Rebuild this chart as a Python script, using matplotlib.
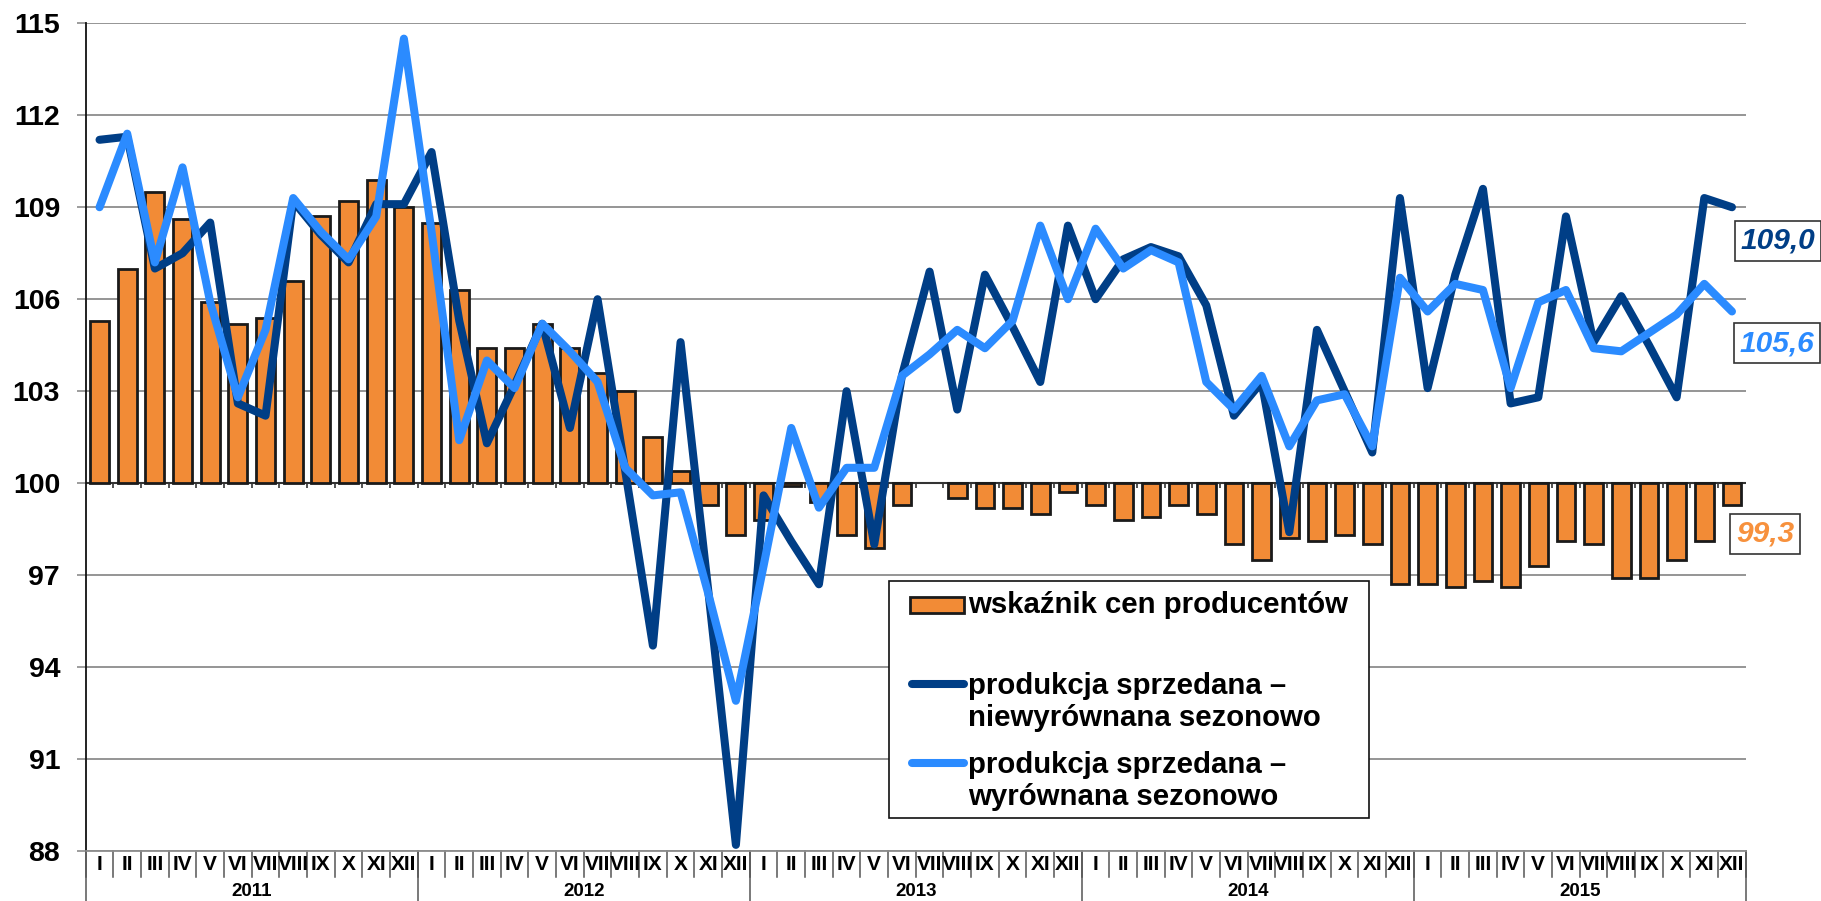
import numpy as np
import matplotlib
matplotlib.use('Agg')
import matplotlib.pyplot as plt
from matplotlib.patches import Rectangle
from matplotlib.lines import Line2D
from matplotlib import transforms

plt.rcParams['font.family'] = ['Liberation Sans', 'DejaVu Sans']

#------ Data ------#
years = ['2011', '2012', '2013', '2014', '2015']
months = ['I', 'II', 'III', 'IV', 'V', 'VI', 'VII', 'VIII', 'IX', 'X', 'XI', 'XII']

# wskaznik cen producentow (bars, base = 100)
ppi = [105.3, 107.0, 109.5, 108.6, 105.9, 105.2, 105.4, 106.6, 108.7, 109.2, 109.9, 109.0,
       108.5, 106.3, 104.4, 104.4, 105.2, 104.4, 103.6, 103.0, 101.5, 100.4, 99.3, 98.3,
       98.8, 99.9, 99.4, 98.3, 97.9, 99.3, 100.0, 99.5, 99.2, 99.2, 99.0, 99.7,
       99.3, 98.8, 98.9, 99.3, 99.0, 98.0, 97.5, 98.2, 98.1, 98.3, 98.0, 96.7,
       96.7, 96.6, 96.8, 96.6, 97.3, 98.1, 98.0, 96.9, 96.9, 97.5, 98.1, 99.3]

# produkcja sprzedana - niewyrownana sezonowo
prod_nsa = [111.2, 111.3, 107.0, 107.5, 108.5, 102.6, 102.2, 109.2, 108.1, 107.2, 109.1, 109.1,
            110.8, 105.3, 101.3, 103.2, 105.2, 101.8, 106.0, 100.4, 94.7, 104.6, 96.5, 88.2,
            99.6, 98.1, 96.7, 103.0, 98.0, 103.5, 106.9, 102.4, 106.8, 105.1, 103.3, 108.4,
            106.0, 107.3, 107.7, 107.4, 105.8, 102.2, 103.3, 98.4, 105.0, 103.0, 101.0, 109.3,
            103.1, 106.8, 109.6, 102.6, 102.8, 108.7, 104.6, 106.1, 104.5, 102.8, 109.3, 109.0]

# produkcja sprzedana - wyrownana sezonowo
prod_sa = [109.0, 111.4, 107.2, 110.3, 105.9, 102.8, 105.0, 109.3, 108.2, 107.3, 108.7, 114.5,
           108.2, 101.4, 104.0, 103.1, 105.2, 104.3, 103.3, 100.5, 99.6, 99.7, 96.4, 92.9,
           97.3, 101.8, 99.2, 100.5, 100.5, 103.5, 104.2, 105.0, 104.4, 105.3, 108.4, 106.0,
           108.3, 107.0, 107.6, 107.2, 103.3, 102.4, 103.5, 101.2, 102.7, 102.9, 101.2, 106.7,
           105.6, 106.5, 106.3, 103.1, 105.9, 106.3, 104.4, 104.3, 104.9, 105.5, 106.5, 105.6]

last_labels = ['109,0', '105,6', '99,3']
#--------------------------------------------#

c_bar = '#F28B36'
c_dark = '#003E86'
c_light = '#2B8BFF'

W, H = 1821, 901
fig = plt.figure(figsize=(W / 100, H / 100), dpi=100)
ax = fig.add_axes([85.7 / W, 1 - 851 / H, (1745.8 - 85.7) / W, (851 - 23.3) / H])

x = np.arange(len(ppi))
base = 100
heights = np.array(ppi) - base
nz = heights != 0   # months with index exactly 100 have no bar

ax.bar(x[nz], heights[nz], bottom=base, width=0.68, color=c_bar, edgecolor='#1a1a1a',
       linewidth=2, zorder=2)
ax.plot(x, prod_nsa, color=c_dark, lw=5.8, solid_joinstyle='round',
        solid_capstyle='round', zorder=3)
ax.plot(x, prod_sa, color=c_light, lw=5.8, solid_joinstyle='round',
        solid_capstyle='round', zorder=4)

ax.set_xlim(-0.5, len(x) - 0.5)
ax.set_ylim(88, 115)
ax.set_yticks(np.arange(88, 116, 3))
ax.yaxis.grid(True, color='#8c8c8c', lw=1.3)
ax.set_axisbelow(True)
ax.axhline(base, color='#333333', lw=1.5, zorder=1.5)

# small category ticks on the 100 line
bounds = np.arange(-0.5, len(x), 1)
ax.vlines(bounds[1:-1], base - 0.17, base, color='#333333', lw=1.2, zorder=1.5)

for s in ['top', 'right']:
    ax.spines[s].set_visible(False)
ax.spines['left'].set_color('#111111')
ax.spines['left'].set_linewidth(1.3)
ax.spines['bottom'].set_color('#8c8c8c')
ax.spines['bottom'].set_linewidth(1.3)

ax.tick_params(axis='y', length=6.5, width=1.2, color='#8c8c8c', pad=12,
               labelsize=20.5)
for lab in ax.get_yticklabels():
    lab.set_fontweight('bold')
ax.set_xticks([])

# month / year labels under the plot
trans = transforms.blended_transform_factory(ax.transData, ax.transAxes)
ah = 851 - 23.3
y_month = -(864.7 - 851) / ah
y_year = -(891.7 - 851) / ah
y_msep = -(877 - 851) / ah
y_ysep = -(901 - 851) / ah

for i in x:
    ax.text(i, y_month, months[i % 12], transform=trans, ha='center', va='center',
            fontsize=15, fontweight='bold',
            family=['Liberation Sans Narrow', 'Liberation Sans', 'DejaVu Sans'])
for b in bounds:
    ax.plot([b, b], [0, y_msep], transform=trans, color='#555555', lw=1.1, clip_on=False)
for k, yr in enumerate(years):
    ax.text(12 * k + 5.5, y_year, yr, transform=trans, ha='center', va='center',
            fontsize=13.5, fontweight='bold')
    ax.plot([12 * k - 0.5] * 2, [0, y_ysep], transform=trans, color='#555555',
            lw=1.1, clip_on=False)
ax.plot([len(x) - 0.5] * 2, [0, y_ysep], transform=trans, color='#555555',
        lw=1.1, clip_on=False)

# legend (drawn by hand, pixel layout of the original)
def fx(px):
    return px / W

def fy(py):
    return 1 - py / H

fig.add_artist(Rectangle((fx(889.3), fy(818.3)), fx(1369) - fx(889.3), fy(580.7) - fy(818.3),
                         transform=fig.transFigure, facecolor='white', edgecolor='#111111',
                         lw=1.2, zorder=5))
fig.add_artist(Rectangle((fx(910), fy(613)), fx(964) - fx(910), fy(597) - fy(613),
                         transform=fig.transFigure, facecolor=c_bar, edgecolor='#1a1a1a',
                         lw=2, zorder=6))
fig.add_artist(Line2D([fx(912), fx(964)], [fy(684), fy(684)], transform=fig.transFigure,
                      color=c_dark, lw=5.8, solid_capstyle='round', zorder=6))
fig.add_artist(Line2D([fx(912), fx(964)], [fy(763), fy(763)], transform=fig.transFigure,
                      color=c_light, lw=5.8, solid_capstyle='round', zorder=6))
leg_kw = dict(fontsize=21.2, fontweight='bold', ha='left', va='center', zorder=7,
              linespacing=1.17)
fig.text(fx(968), fy(605), 'wskaźnik cen producentów', **leg_kw)
fig.text(fx(968), fy(702), 'produkcja sprzedana –\nniewyrównana sezonowo', **leg_kw)
fig.text(fx(968), fy(781), 'produkcja sprzedana –\nwyrównana sezonowo', **leg_kw)

# last values
box = dict(boxstyle='square,pad=0.2', facecolor='white', edgecolor='#333333', lw=1.2)
lab_kw = dict(fontsize=21.5, fontweight='bold', fontstyle='italic', ha='center',
              va='center', bbox=box, zorder=7)
fig.text(fx(1778), fy(240.7), last_labels[0], color=c_dark, **lab_kw)
fig.text(fx(1777), fy(343.3), last_labels[1], color=c_light, **lab_kw)
fig.text(fx(1765), fy(534), last_labels[2], color='#F7913D', **lab_kw)

fig.savefig('out.png', dpi=100)
